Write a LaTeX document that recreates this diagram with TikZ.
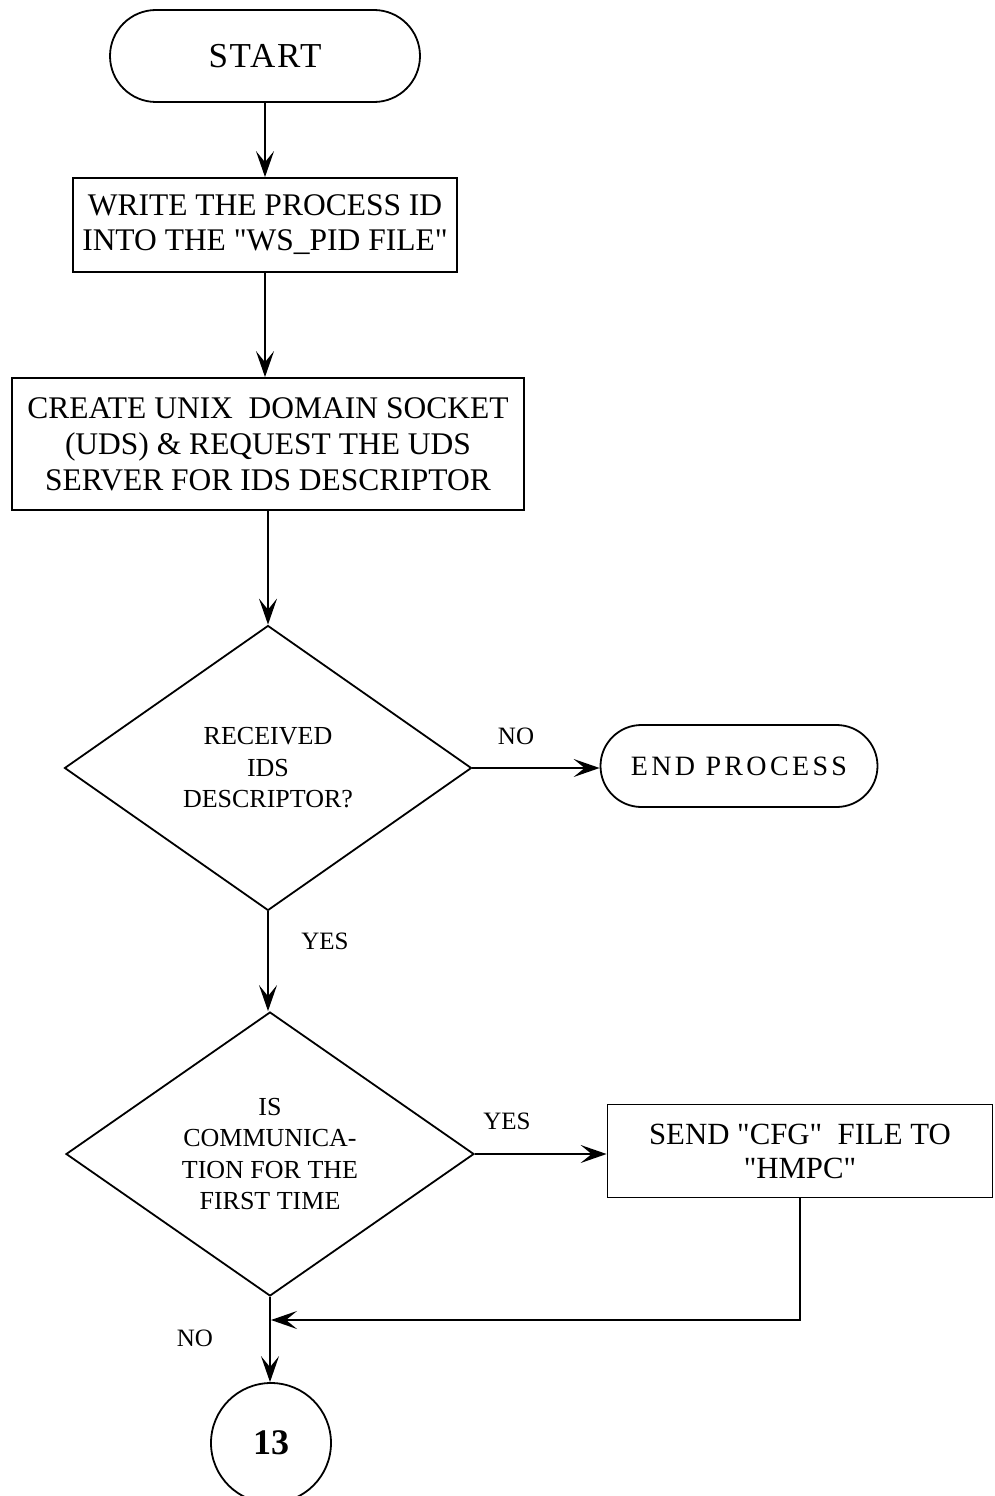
\documentclass[tikz,border=0pt]{standalone}
\usepackage{fontspec}
\setmainfont{Liberation Serif}[Ligatures=TeXOff]
\usetikzlibrary{shapes.geometric,arrows.meta}

\tikzset{
  every picture/.style={line width=1.8pt},
  terminal/.style={draw, rectangle, rounded corners=#1, inner sep=0pt, align=center},
  procbox/.style={draw, rectangle, inner sep=0pt, align=center,
    font=\fontsize{31.5}{35}\selectfont},
  decision/.style={draw, diamond, inner sep=0pt, align=center, shape aspect=1.43,
    font=\fontsize{26}{31.5}\selectfont},
  connector/.style={draw, circle, inner sep=0pt, minimum size=120pt,
    font=\fontsize{36}{36}\selectfont\bfseries},
  flow/.style={draw, -{Stealth[length=26pt, width=18pt, inset=11pt]}},
  lbl/.style={font=\fontsize{25}{25}\selectfont, inner sep=0pt}
}

\begin{document}
\begin{tikzpicture}[x=1pt, y=-1pt]
  \useasboundingbox (0,0) rectangle (995,1496);
  \clip (0,0) rectangle (995,1496);

  % start / end terminals
  \node[terminal=46pt, minimum width=310pt, minimum height=92pt,
        font=\fontsize{35}{35}\selectfont\addfontfeature{LetterSpace=5}]
        (start) at (265,56) {START};

  \node[procbox, minimum width=384pt, minimum height=94pt] (write) at (265,225)
    {WRITE THE PROCESS ID\\INTO THE "WS\_PID FILE"};

  \node[procbox, minimum width=512pt, minimum height=132pt,
        font=\fontsize{31.5}{36}\selectfont] (create) at (268,444)
    {CREATE UNIX\ \ DOMAIN SOCKET\\(UDS) \& REQUEST THE UDS\\SERVER FOR IDS DESCRIPTOR};

  \node[decision, minimum width=407pt, minimum height=285pt] (recv) at (268,768)
    {RECEIVED\\IDS\\DESCRIPTOR?};

  \node[terminal=41pt, minimum width=277pt, minimum height=82pt,
        font=\fontsize{28}{28}\selectfont\addfontfeature{LetterSpace=12}]
        (endp) at (739,766) {END PROCESS};

  \node[decision, minimum width=408pt, minimum height=284pt] (first) at (270,1154)
    {IS\\COMMUNICA-\\TION FOR THE\\FIRST TIME};

  \node[procbox, minimum width=385pt, minimum height=93pt,
        font=\fontsize{30.8}{34}\selectfont] (send) at (800,1151)
    {SEND "CFG"\ \ FILE TO\\"HMPC"};

  \node[connector] (off) at (271,1443) {13};

  \coordinate (join) at (271,1320);

  % connectors
  \draw[flow] (start.south) -- (start.south |- write.north);
  \draw[flow] (write.south) -- (write.south |- create.north);
  \draw[flow] (create.south) -- (create.south |- recv.north);
  \draw[flow] (recv.east) -- (recv.east -| endp.west);
  \draw[flow] (recv.south) -- (recv.south |- first.north);
  \draw[flow] (first.east) -- (first.east -| send.west);
  \draw[flow] (send.south) |- (join);
  \draw[flow] (first.south) -- (first.south |- off.north);

  % branch labels
  \node[lbl] (lno1) at (516,736) {NO};
  \node[lbl] (lyes1) at (325,941) {YES};
  \node[lbl] (lyes2) at (507,1121) {YES};
  \node[lbl] (lno2) at (195,1338) {NO};
\end{tikzpicture}
\end{document}
